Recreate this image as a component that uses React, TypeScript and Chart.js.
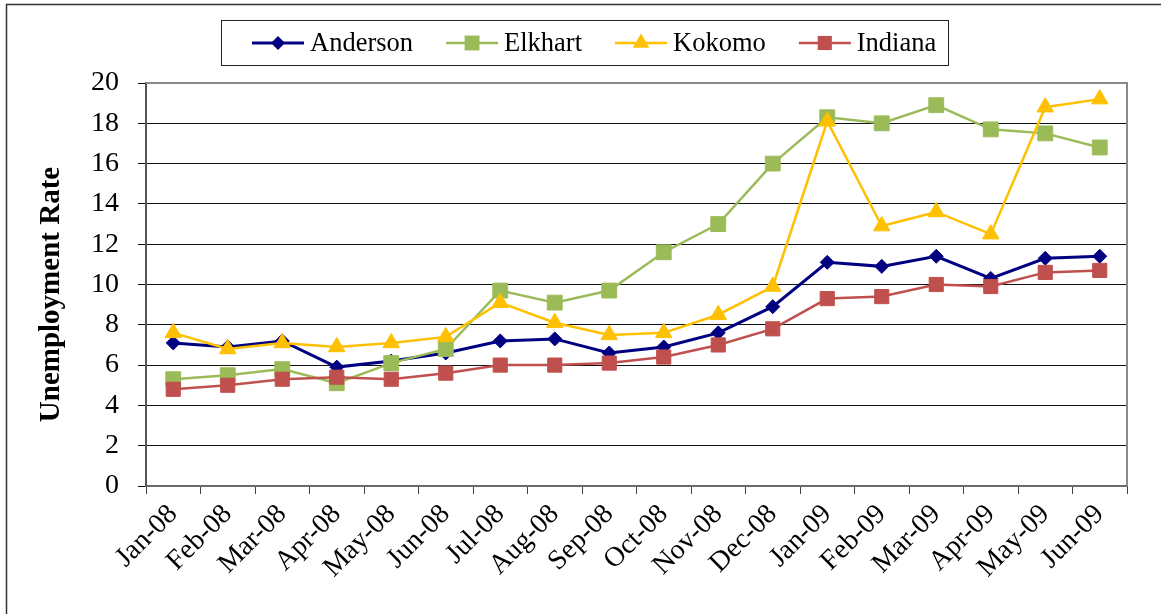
import React, { useEffect, useRef } from "react";
import { Chart, registerables } from "chart.js";

Chart.register(...registerables);

const months = [
  "Jan-08", "Feb-08", "Mar-08", "Apr-08", "May-08", "Jun-08",
  "Jul-08", "Aug-08", "Sep-08", "Oct-08", "Nov-08", "Dec-08",
  "Jan-09", "Feb-09", "Mar-09", "Apr-09", "May-09", "Jun-09",
];

const anderson = [7.1, 6.9, 7.2, 5.9, 6.2, 6.6, 7.2, 7.3, 6.6, 6.9, 7.6, 8.9, 11.1, 10.9, 11.4, 10.3, 11.3, 11.4];
const elkhart = [5.3, 5.5, 5.8, 5.1, 6.1, 6.8, 9.7, 9.1, 9.7, 11.6, 13.0, 16.0, 18.3, 18.0, 18.9, 17.7, 17.5, 16.8];
const kokomo = [7.6, 6.8, 7.1, 6.9, 7.1, 7.4, 9.1, 8.1, 7.5, 7.6, 8.5, 9.9, 18.1, 12.9, 13.6, 12.5, 18.8, 19.2];
const indiana = [4.8, 5.0, 5.3, 5.4, 5.3, 5.6, 6.0, 6.0, 6.1, 6.4, 7.0, 7.8, 9.3, 9.4, 10.0, 9.9, 10.6, 10.7];

const yTitle = "Unemployment Rate";
const FONT = "'Liberation Serif', 'Times New Roman', serif";

const framePlugin = {
  id: "frame",
  beforeDraw(chart: any) {
    const { ctx, width, height } = chart;
    ctx.save();
    ctx.fillStyle = "#ffffff";
    ctx.fillRect(0, 0, width, height);
    ctx.strokeStyle = "#333333";
    ctx.lineWidth = 1.5;
    ctx.beginPath();
    ctx.moveTo(6.5, height);
    ctx.lineTo(6.5, 4.5);
    ctx.lineTo(width, 4.5);
    ctx.stroke();
    ctx.restore();
  },
  beforeDatasetsDraw(chart: any) {
    const { ctx, chartArea } = chart;
    ctx.save();
    ctx.strokeStyle = "#8a8a8a";
    ctx.lineWidth = 2;
    ctx.beginPath();
    ctx.moveTo(chartArea.left, chartArea.top);
    ctx.lineTo(chartArea.right, chartArea.top);
    ctx.lineTo(chartArea.right, chartArea.bottom);
    ctx.stroke();
    ctx.restore();
  },
  afterDraw(chart: any) {
    const { ctx, chartArea } = chart;
    ctx.save();
    ctx.translate(52, (chartArea.top + chartArea.bottom) / 2 + 10);
    ctx.rotate(-Math.PI / 2);
    ctx.font = `bold 29px ${FONT}`;
    ctx.fillStyle = "#000";
    ctx.textAlign = "center";
    ctx.textBaseline = "middle";
    ctx.fillText(yTitle, 0, 0);
    ctx.restore();
  },
};

function drawMarker(ctx: CanvasRenderingContext2D, style: string, x: number, y: number, r: number, color: string) {
  ctx.fillStyle = color;
  ctx.beginPath();
  if (style === "rectRot") {
    ctx.moveTo(x, y - r);
    ctx.lineTo(x + r, y);
    ctx.lineTo(x, y + r);
    ctx.lineTo(x - r, y);
  } else if (style === "rect") {
    const s = r * Math.SQRT1_2;
    ctx.rect(x - s, y - s, 2 * s, 2 * s);
  } else {
    ctx.moveTo(x, y - r);
    ctx.lineTo(x + r * 0.866, y + r * 0.5);
    ctx.lineTo(x - r * 0.866, y + r * 0.5);
  }
  ctx.closePath();
  ctx.fill();
}

const legendPlugin = {
  id: "boxLegend",
  afterDraw(chart: any) {
    const { ctx } = chart;
    const box = { l: 221, t: 20, r: 948, b: 65 };
    const sample = 52;
    const gapText = 6;
    const gapItem = 33;
    ctx.save();
    ctx.font = `26.5px ${FONT}`;
    const items = chart.data.datasets
      .slice()
      .sort((a: any, b: any) => a.legendIndex - b.legendIndex)
      .map((d: any) => ({ d, w: ctx.measureText(d.label).width }));
    ctx.fillStyle = "#fff";
    ctx.fillRect(box.l, box.t, box.r - box.l, box.b - box.t);
    ctx.strokeStyle = "#222";
    ctx.lineWidth = 1;
    ctx.strokeRect(box.l + 0.5, box.t + 0.5, box.r - box.l, box.b - box.t);
    let x = box.l + 31;
    const cy = 43;
    for (const it of items) {
      const d = it.d;
      ctx.strokeStyle = d.borderColor;
      ctx.lineWidth = d.borderWidth;
      ctx.beginPath();
      ctx.moveTo(x, cy);
      ctx.lineTo(x + sample, cy);
      ctx.stroke();
      drawMarker(ctx, d.pointStyle, x + sample / 2, cy, d.pointRadius, d.backgroundColor);
      x += sample + gapText;
      ctx.fillStyle = "#000";
      ctx.textAlign = "left";
      ctx.textBaseline = "middle";
      ctx.fillText(d.label, x, cy + 1);
      x += it.w + gapItem;
    }
    ctx.restore();
  },
};

export default function App() {
  const ref = useRef<HTMLCanvasElement>(null);
  useEffect(() => {
    const canvas = ref.current;
    if (!canvas) return;
    const mk = (label: string, data: number[], color: string, style: string, radius: number, width: number, order: number, legendIndex: number) => ({
      label,
      data,
      borderColor: color,
      backgroundColor: color,
      pointBackgroundColor: color,
      pointBorderColor: color,
      pointBorderWidth: 1,
      pointStyle: style,
      pointRadius: radius,
      borderWidth: width,
      tension: 0,
      fill: false,
      order,
      legendIndex,
    });
    const chart = new Chart(canvas, {
      type: "line",
      data: {
        labels: months,
        datasets: [
          mk("Anderson", anderson, "#000080", "rectRot", 7, 3, 4, 0),
          mk("Elkhart", elkhart, "#9BBB59", "rect", 10.5, 2.5, 3, 1),
          mk("Kokomo", kokomo, "#FFC000", "triangle", 9.5, 2.5, 2, 2),
          mk("Indiana", indiana, "#C0504D", "rect", 10, 2.5, 1, 3),
        ] as any,
      },
      options: {
        animation: false,
        responsive: false,
        maintainAspectRatio: false,
        layout: { padding: { top: 83, right: 34, left: 0, bottom: 0 } },
        plugins: {
          legend: { display: false },
          tooltip: { enabled: false },
          title: { display: false },
        },
        scales: {
          x: {
            type: "category",
            offset: true,
            grid: {
              display: true,
              drawOnChartArea: false,
              drawTicks: true,
              tickLength: 8,
              offset: true,
              color: "#444",
              lineWidth: 1,
            },
            border: { display: true, color: "#6a6a6a", width: 2 },
            ticks: {
              autoSkip: false,
              maxRotation: 45,
              minRotation: 45,
              padding: 4,
              color: "#000",
              font: { family: FONT, size: 28 },
            },
            afterFit(scale: any) {
              scale.height = 128;
            },
          },
          y: {
            min: 0,
            max: 20,
            ticks: {
              stepSize: 2,
              padding: 19,
              color: "#000",
              font: { family: FONT, size: 28 },
            },
            grid: {
              color: "#111",
              lineWidth: 1,
              drawTicks: true,
              tickLength: 8,
            },
            border: { display: true, color: "#555", width: 2 },
            title: { display: false },
            afterFit(scale: any) {
              scale.width = 146;
            },
          },
        },
      } as any,
      plugins: [framePlugin, legendPlugin],
    });
    return () => chart.destroy();
  }, []);
  return (
    <div style={{ position: "absolute", left: 0, top: 0, width: 1161, height: 614, background: "#fff" }}>
      <canvas ref={ref} width={1161} height={614} style={{ display: "block" }} />
    </div>
  );
}
